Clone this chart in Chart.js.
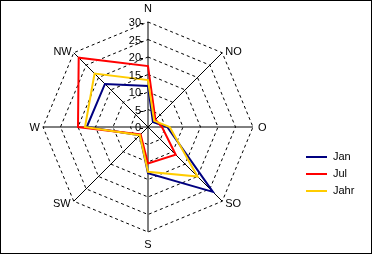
<!DOCTYPE html>
<html><head><meta charset="utf-8">
<script src="https://cdn.jsdelivr.net/npm/chart.js@4"></script>
<style>
html,body{margin:0;padding:0;background:#fff;}
#wrap{position:relative;width:372px;height:254px;overflow:hidden;background:#fff;}
#c{position:absolute;left:0;top:0;}
#frame{position:absolute;left:0;top:0;width:372px;height:254px;box-sizing:border-box;border:1px solid #000;pointer-events:none;}
.lt{position:absolute;font:11px "Liberation Sans",Arial,sans-serif;color:#000;line-height:13px;white-space:nowrap;}
.ln{position:absolute;height:2px;width:21px;}
</style></head>
<body><div id="wrap"><canvas id="c" width="372" height="254"></canvas><div id="legend"></div><div id="frame"></div></div>
<script>
const categories = ['N', 'NO', 'O', 'SO', 'S', 'SW', 'W', 'NW'];
const seriesNames = ['Jan', 'Jul', 'Jahr'];
const janValues = [11.7, 2, 5.5, 26.2, 13.2, 3.3, 17.5, 17.4];
const julValues = [17.4, 3, 4, 11.2, 10.4, 3, 20, 28];
const jahrValues = [13.4, 2.5, 6.2, 20, 12.8, 3.3, 18, 21.6];
const tickMin = 0, tickMax = 30, tickStep = 5;
const colors = ['#000080', '#FF0000', '#FFCC00'];

const FONT = '11px "Liberation Sans", Arial, sans-serif';

// label placement relative to outer polygon corner: [align, dx, dy]
const labelPlace = [
  ['center', 0, -10], ['left', 3, 2], ['left', 5, 4], ['left', 3, 6],
  ['center', 0, 16], ['right', -3, 6], ['right', -3, 4], ['right', -2, 2]
];

const labelPlugin = {
  id: 'labelPlugin',
  afterDraw(chart) {
    const s = chart.scales.r;
    const ctx = chart.ctx;
    ctx.save();
    ctx.font = FONT;
    ctx.fillStyle = '#000';
    ctx.textBaseline = 'alphabetic';
    // tick labels and tick marks
    s.ticks.forEach(t => {
      const y = s.yCenter - s.getDistanceFromCenterForValue(t.value);
      ctx.textAlign = 'right';
      ctx.fillText(t.label, s.xCenter - 7, y + 4);
      ctx.fillRect(s.xCenter - 8, Math.round(y) + 1, 3, 1);
    });
    // point labels
    s._pointLabels.forEach((lab, i) => {
      const p = s.getPointPosition(i, s.drawingArea);
      const pl = labelPlace[i];
      ctx.textAlign = pl[0];
      ctx.fillText(lab, p.x + pl[1], p.y + pl[2]);
    });
    ctx.restore();
  }
};

const seriesValues = [janValues, julValues, jahrValues];
const datasets = seriesNames.map((n, i) => ({
  label: n,
  data: seriesValues[i],
  borderColor: colors[i],
  backgroundColor: 'transparent',
  borderWidth: 2,
  fill: false,
  pointRadius: 0,
  pointHoverRadius: 0,
  tension: 0,
  order: 3 - i
}));

new Chart(document.getElementById('c'), {
  type: 'radar',
  data: { labels: categories, datasets },
  options: {
    responsive: false,
    animation: false,
    devicePixelRatio: 1,
    layout: { padding: { left: 43, top: 22, right: 118, bottom: 21 } },
    plugins: { legend: { display: false }, tooltip: { enabled: false }, title: { display: false } },
    elements: { line: { borderJoinStyle: 'miter' } },
    scales: {
      r: {
        min: tickMin, max: tickMax,
        ticks: { stepSize: tickStep, display: false },
        pointLabels: { display: false },
        grid: { color: '#000', lineWidth: 1 },
        border: { dash: [3, 3] },
        angleLines: { color: '#000', lineWidth: 1 }
      }
    }
  },
  plugins: [labelPlugin]
});

// HTML legend
const lg = document.getElementById('legend');
seriesNames.forEach((n, i) => {
  const y = 156 + i * 17;
  const l = document.createElement('div');
  l.className = 'ln';
  l.style.left = '306px'; l.style.top = y + 'px'; l.style.background = colors[i];
  lg.appendChild(l);
  const t = document.createElement('div');
  t.className = 'lt';
  t.style.left = '333px'; t.style.top = (y - 6) + 'px';
  t.textContent = n;
  lg.appendChild(t);
});
</script>
</body></html>
